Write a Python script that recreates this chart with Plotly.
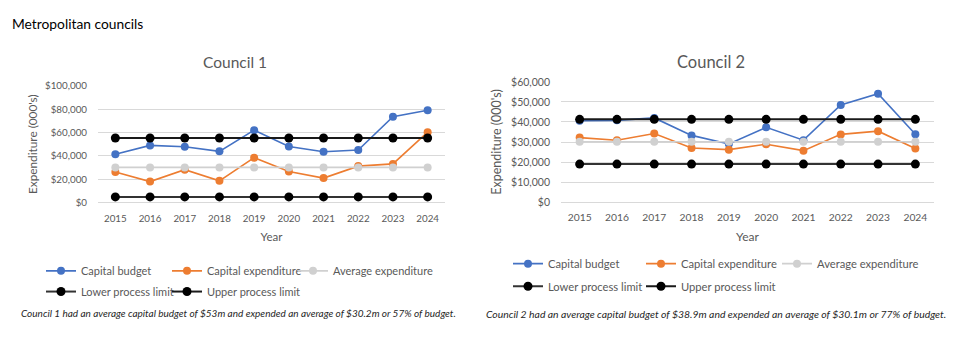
import plotly.graph_objects as go

W, H = 961, 351

years = ["2015", "2016", "2017", "2018", "2019", "2020", "2021", "2022", "2023", "2024"]

# Council 1 (000's)
c1_budget = [41500, 49000, 47800, 43900, 62000, 48000, 43600, 45000, 73500, 79000]
c1_expend = [26200, 18100, 28300, 18700, 38500, 26700, 21100, 31300, 33200, 60300]
c1_avg = [30200] * 10
c1_lower = [5000] * 10
c1_upper = [55300] * 10

# Council 2 (000's)
c2_budget = [40600, 40800, 42000, 33300, 29000, 37300, 30900, 48500, 54100, 33900]
c2_expend = [32200, 30900, 34200, 27000, 26200, 28900, 25700, 33800, 35400, 26800]
c2_avg = [30100] * 10
c2_lower = [19000] * 10
c2_upper = [41300] * 10

series_names = ["Capital budget", "Capital expenditure", "Average expenditure",
                "Lower process limit", "Upper process limit"]
colors = ["#4472C4", "#ED7D31", "#D0D0D0", "#000000", "#000000"]
line_colors = ["#4472C4", "#ED7D31", "#D0D0D0", "#333333", "#1a1a1a"]
line_widths = [1.6, 1.6, 1.6, 2, 2]

FONT = "Lato"
GREY = "#595959"

def px(x):
    return x / W

def py(y):
    return (H - y) / H

fig = go.Figure()

def add_series(data_list, xa, ya, legend_ids):
    for i, (name, vals) in enumerate(zip(series_names, data_list)):
        fig.add_trace(go.Scatter(
            x=years, y=vals, name=name, mode="lines+markers",
            xaxis=xa, yaxis=ya, showlegend=True,
            line=dict(color=line_colors[i], width=line_widths[i]),
            marker=dict(color=colors[i], size=9 if i >= 3 else 8),
            legend=legend_ids[i],
        ))

add_series([c1_budget, c1_expend, c1_avg, c1_lower, c1_upper], "x", "y",
           ["legend", "legend2", "legend3", "legend4", "legend5"])
add_series([c2_budget, c2_expend, c2_avg, c2_lower, c2_upper], "x2", "y2",
           ["legend6", "legend7", "legend8", "legend9", "legend10"])

def axis_common(size):
    return dict(showline=False, ticks="", color=GREY,
                tickfont=dict(family=FONT, size=size, color=GREY))

fig.update_layout(
    width=W, height=H,
    showlegend=True,
    margin=dict(l=0, r=0, t=0, b=0),
    paper_bgcolor="white", plot_bgcolor="white",
    font=dict(family=FONT, color=GREY),
    xaxis=dict(domain=[px(98), px(445)], type="category", range=[-0.5, 9.5],
               showgrid=False, zeroline=False, anchor="y", ticklabelstandoff=8,
               title=dict(text="Year", font=dict(family=FONT, size=11.5, color=GREY), standoff=10),
               **axis_common(9.8)),
    yaxis=dict(domain=[py(203.3), py(81.7)], range=[0, 100000], dtick=20000,
               tickprefix="$", tickformat=",", showgrid=True, gridcolor="#D9D9D9",
               zeroline=True, zerolinecolor="#D9D9D9", zerolinewidth=1, anchor="x",
               ticklabelstandoff=10,
               title=dict(text="Expenditure (000's)", font=dict(family=FONT, size=11.8, color=GREY), standoff=4),
               **axis_common(9.8)),
    xaxis2=dict(domain=[px(561), px(934)], type="category", range=[-0.5, 9.5],
                showgrid=False, zeroline=False, anchor="y2", ticklabelstandoff=8,
                title=dict(text="Year", font=dict(family=FONT, size=12, color=GREY), standoff=10),
                **axis_common(10.3)),
    yaxis2=dict(domain=[py(202.7), py(77.7)], range=[0, 60000], dtick=10000,
                tickprefix="$", tickformat=",", showgrid=True, gridcolor="#D9D9D9",
                zeroline=True, zerolinecolor="#D9D9D9", zerolinewidth=1, anchor="x2",
                ticklabelstandoff=10,
                title=dict(text="Expenditure (000's)", font=dict(family=FONT, size=12.5, color=GREY), standoff=6),
                **axis_common(10.5)),
)

legend_common = dict(orientation="h", xanchor="left", yanchor="middle",
                     bgcolor="rgba(0,0,0,0)", borderwidth=0, visible=True,
                     itemclick=False, itemdoubleclick=False)

# legend slots: (marker x, row y, font size)
legend_slots = {
    "legend": (61, 274, 11), "legend2": (187, 274, 11), "legend3": (313, 274, 11),
    "legend4": (61, 295.5, 11), "legend5": (187, 295.5, 11),
    "legend6": (528, 266.5, 11.2), "legend7": (661, 266.5, 11.2), "legend8": (797, 266.5, 11.2),
    "legend9": (528, 290, 11.2), "legend10": (661, 290, 11.2),
}
legend_layout = {}
for key, (mx, ry, fs) in legend_slots.items():
    legend_layout[key] = dict(x=px(mx - 20), y=py(ry),
                              font=dict(family=FONT, size=fs, color=GREY), **legend_common)
fig.update_layout(**legend_layout)

annotations = [
    dict(text="Metropolitan councils", x=px(10), y=py(17), xanchor="left", yanchor="middle",
         font=dict(family=FONT, size=13.8, color="#000000")),
    dict(text="Council 1", x=px(234.5), y=py(57), xanchor="center", yanchor="middle",
         font=dict(family=FONT, size=15.5, color=GREY)),
    dict(text="Council 2", x=px(711), y=py(57), xanchor="center", yanchor="middle",
         font=dict(family=FONT, size=16.5, color=GREY)),
    dict(text="<i>Council 1 had an average capital budget of $53m and expended an average of $30.2m or 57% of budget.</i>",
         x=px(19), y=py(317.5), xanchor="left", yanchor="middle",
         font=dict(family=FONT, size=10, color="#262626")),
    dict(text="<i>Council 2 had an average capital budget of $38.9m and expended an average of $30.1m or 77% of budget.</i>",
         x=px(484), y=py(318.5), xanchor="left", yanchor="middle",
         font=dict(family=FONT, size=10.4, color="#262626")),
]
for a in annotations:
    a.update(xref="paper", yref="paper", showarrow=False)
fig.update_layout(annotations=annotations)

fig.write_html("out.html")
